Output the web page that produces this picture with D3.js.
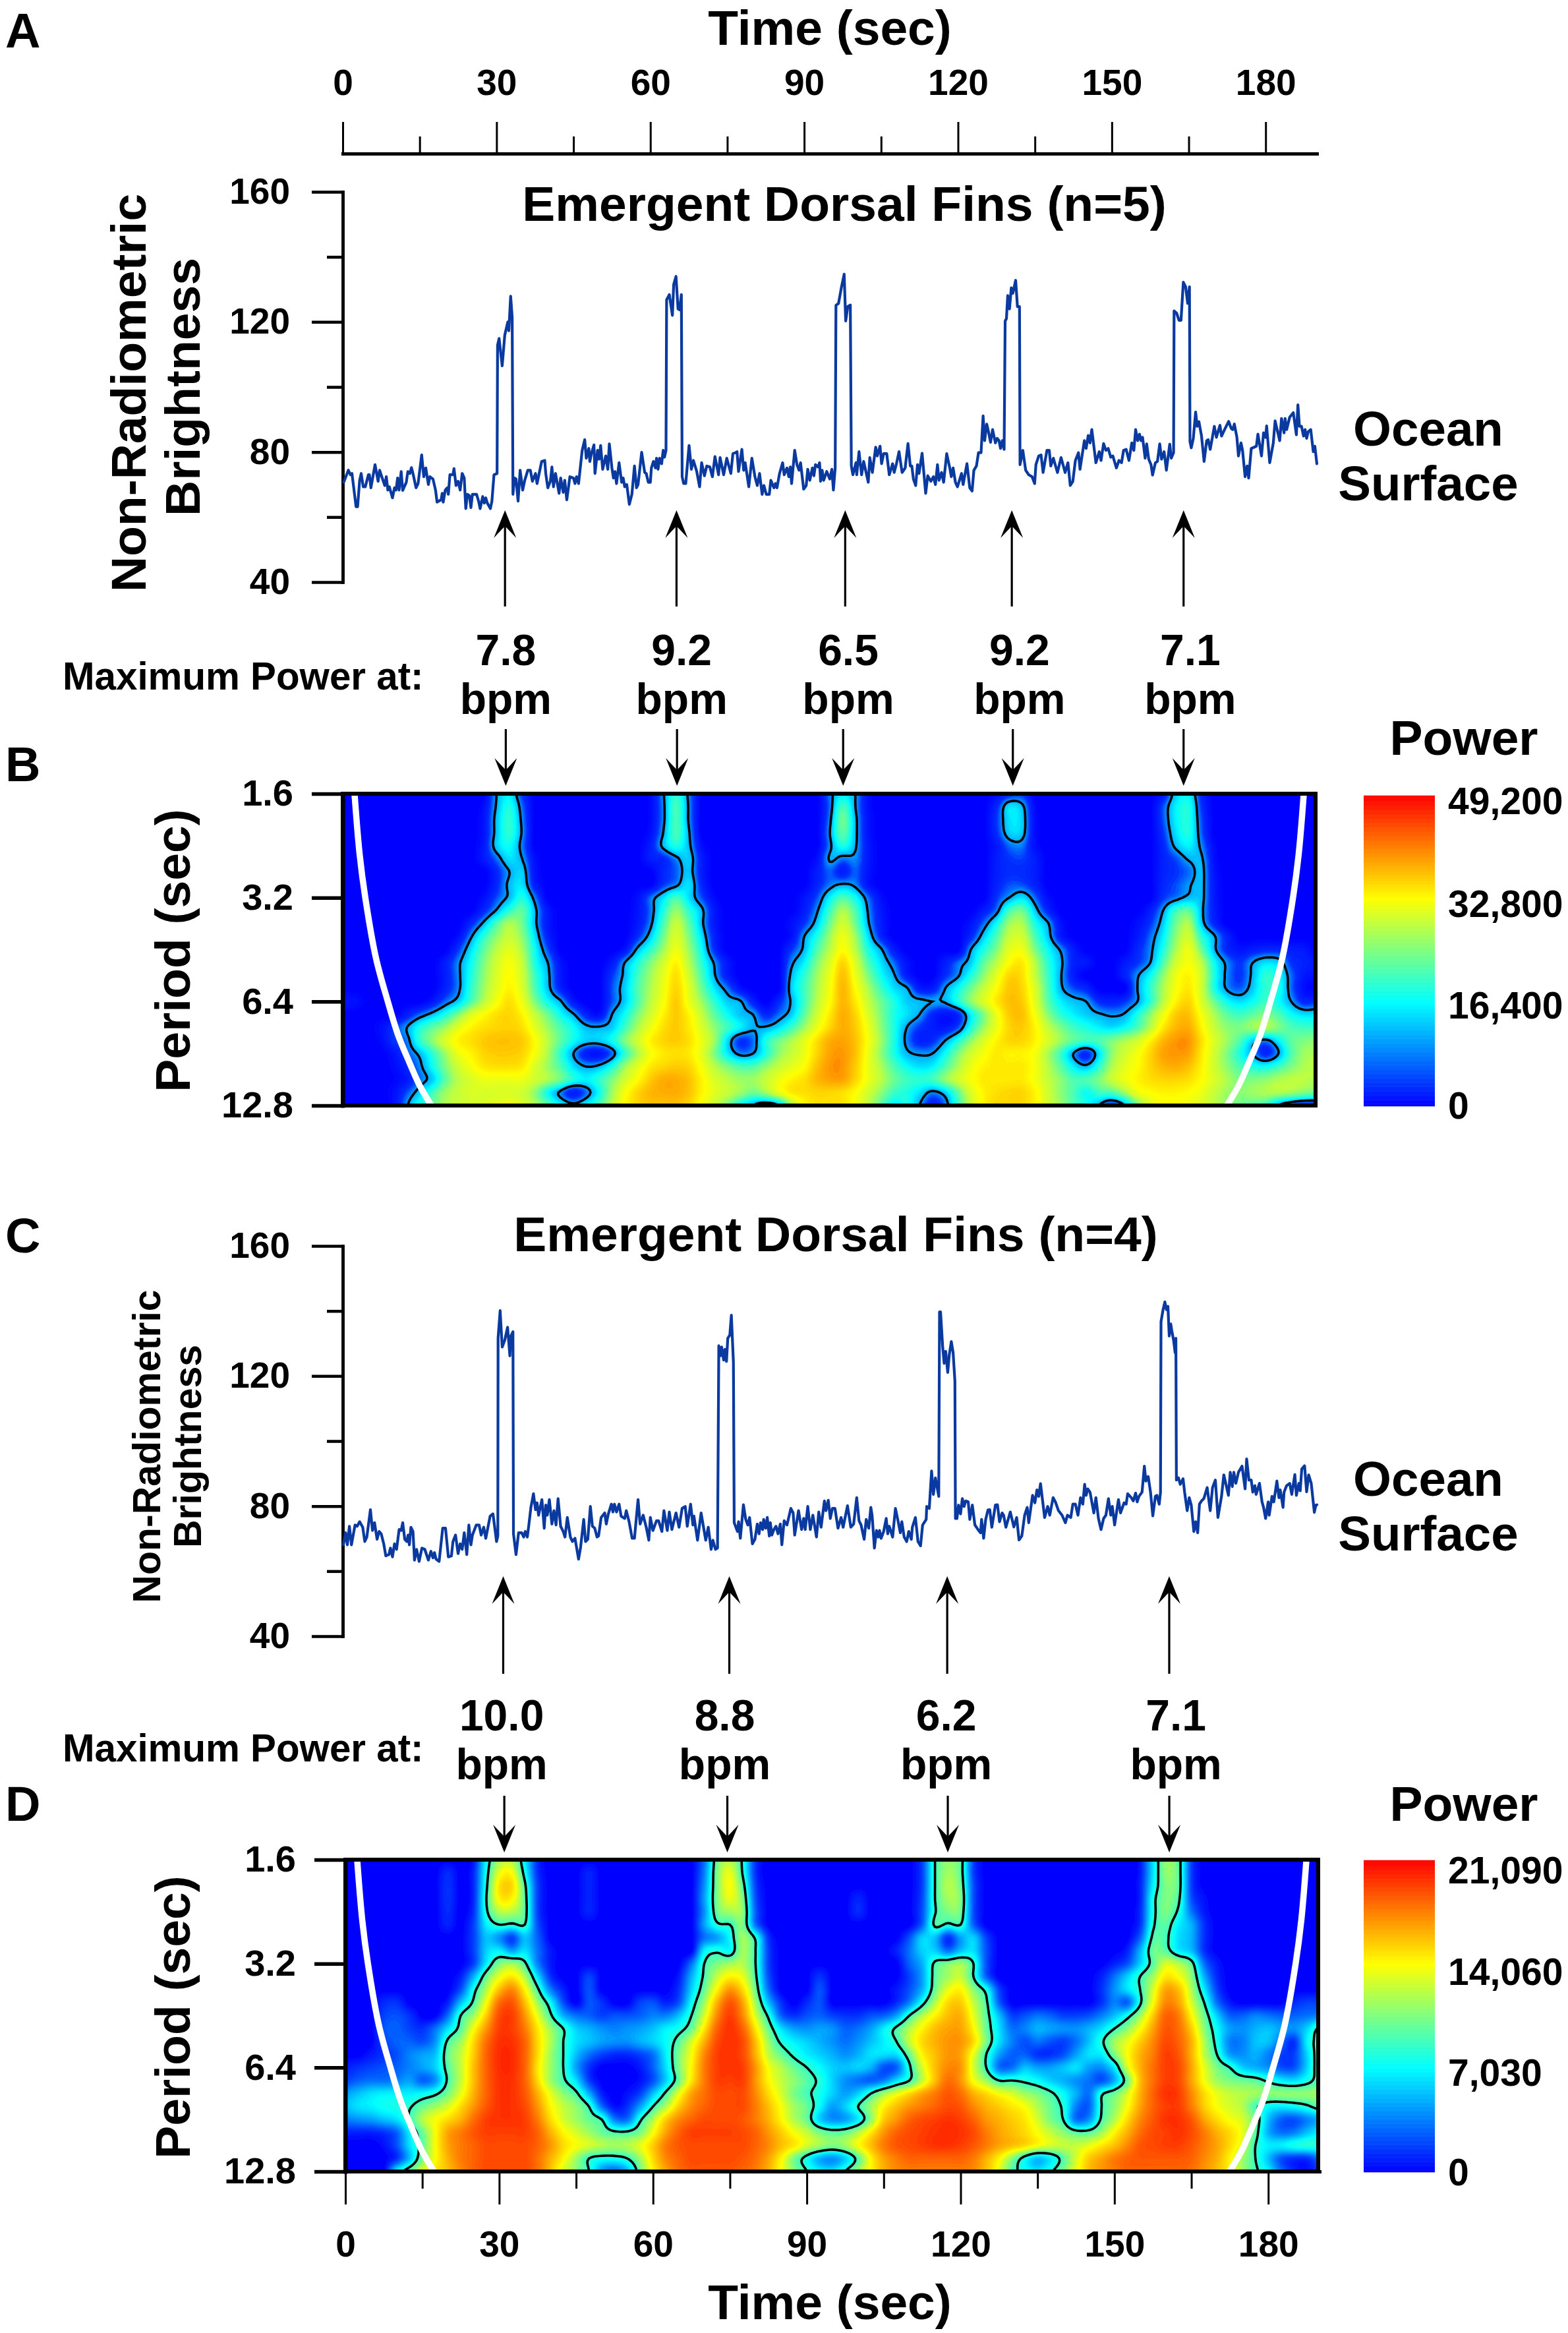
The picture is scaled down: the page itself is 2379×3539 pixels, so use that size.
<!DOCTYPE html>
<html><head><meta charset="utf-8">
<script src="https://cdn.jsdelivr.net/npm/d3@7/dist/d3.min.js"></script>
<style>
html,body{margin:0;padding:0;background:#fff}
svg{display:block}
text{font-family:"Liberation Sans",Arial,sans-serif;font-weight:700;fill:#000}
</style></head><body>
<svg id="c" width="2379" height="3539" viewBox="0 0 2379 3539"></svg>
<script>
// ---------- series ----------
const timeA=[0.2,1.1,1.5,1.8,2.6,2.9,3.3,3.6,4.0,4.4,5.0,5.2,5.5,6.3,6.9,7.2,7.7,8.2,8.5,8.8,9.1,9.7,10.1,10.4,10.7,11.0,11.4,11.7,12.4,12.7,13.1,13.4,13.7,14.3,14.7,15.4,15.8,16.2,16.7,17.0,17.6,18.1,18.4,19.2,19.4,19.6,20.0,20.4,20.6,20.9,21.5,21.7,22.1,22.5,22.9,23.3,23.7,24.0,24.3,24.7,25.0,25.3,26.1,26.5,26.8,27.3,27.6,27.9,28.2,28.8,29.1,29.5,30.1,30.2,30.5,31.1,31.6,32.2,32.4,32.75,33.05,33.2,33.5,33.8,34.2,34.6,35.1,35.5,36.1,36.6,37.0,37.6,37.9,38.8,39.4,39.6,40.0,40.5,40.8,41.1,41.5,42.2,42.5,43.0,43.3,43.7,44.3,45.0,45.3,45.6,46.0,46.7,47.2,47.5,48.0,48.2,48.5,49.0,49.2,49.7,50.0,50.3,50.7,51.3,51.7,52.0,52.5,52.8,53.1,53.4,53.9,54.4,54.7,55.0,55.4,55.9,56.4,56.9,57.3,57.6,58.3,58.9,59.2,59.6,60.0,60.2,60.6,61.0,61.2,61.5,61.8,62.2,62.5,62.75,63.05,63.17,63.7,64.3,64.55,65.0,65.4,65.7,66.05,66.2,66.5,66.9,67.55,68.0,68.4,69.05,69.6,70.0,70.55,71.0,71.6,72.1,72.6,73.3,73.6,74.3,74.9,75.7,76.1,76.6,76.9,77.2,77.85,78.2,78.5,79.2,79.8,80.4,80.85,81.3,81.8,82.15,82.6,83.2,83.5,84.1,84.4,84.7,85.2,85.8,86.1,86.65,87.0,87.3,87.55,88.15,88.6,89.0,89.3,89.9,90.4,90.7,91.1,91.6,91.9,92.2,92.7,93.0,93.2,93.5,93.8,94.4,95.0,95.4,95.7,96.05,96.2,96.7,97.25,97.8,98.1,98.5,99.0,99.2,99.5,100.1,100.25,100.7,101.2,101.6,102.5,102.8,103.3,103.95,104.25,104.8,105.1,105.5,106.1,106.6,107.25,107.55,108.0,108.5,109.1,109.7,110.25,110.7,111.0,111.3,111.75,112.1,112.4,113.0,113.7,114.1,114.7,115.2,115.6,116.0,116.3,116.8,117.2,117.8,118.4,118.7,119.05,119.5,119.9,120.7,121.0,121.75,122.3,122.75,123.1,123.6,124.0,124.5,124.9,125.2,125.6,125.9,126.35,126.75,127.3,127.65,128.0,128.3,128.65,129.0,129.2,129.45,129.7,130.05,130.4,130.7,131.25,131.6,132.0,132.1,132.65,133.2,133.8,134.45,134.95,135.2,135.75,136.2,136.6,137.35,137.8,138.1,138.6,139.4,140.1,140.9,141.45,141.9,142.4,142.9,143.5,143.8,144.65,145.0,145.4,145.75,146.1,146.9,147.55,147.9,148.4,148.85,149.3,149.8,150.2,150.9,151.4,151.9,152.3,152.8,153.35,153.9,154.3,154.65,155.05,155.4,155.7,156.0,156.5,156.8,157.2,157.65,157.95,158.5,158.9,159.35,159.7,160.2,160.65,161.3,161.6,162.05,162.15,162.65,163.1,163.5,163.95,164.4,164.8,165.15,165.25,165.5,165.9,166.35,166.65,167.0,167.5,168.0,168.5,168.8,169.2,170.0,170.4,171.1,171.4,172.0,172.8,173.3,173.6,173.9,174.4,174.7,175.2,175.5,176.0,176.4,176.7,177.2,177.8,178.2,178.5,179.2,179.6,180.0,180.2,180.8,181.5,181.85,182.75,183.1,183.6,183.8,184.1,184.7,185.4,186.0,186.3,186.6,187.0,187.4,187.7,188.0,188.3,188.8,189.3,189.6,190.0];
const brightnessA=[70.7,74.4,73,73.4,63.2,63.2,71.3,73.4,69.3,69.3,73,73,69,76.1,71,74.4,72,69.7,72.4,68.3,69.3,65.9,69,68.3,72,68.3,74,68.2,70.7,74,73.4,75.2,73.4,69,70.3,79.1,72.4,75.1,70,72.4,71.7,68.3,64.6,65.3,67.3,64.6,68.3,69,67,73,73,74.9,69.7,71,68.3,73.4,72,62.6,67,66.6,62.9,67,67,64.9,62.6,66.3,64.3,65.9,64.3,62.6,64.9,73,73.4,112.9,114.9,106.5,115.9,120,117.3,127.9,121.4,67,72,71.7,64.9,74.4,68.3,71.3,74.4,74.4,71,73.4,70.3,77.1,77.4,73.4,69,71,75.4,69.3,73.4,67.3,72,67.6,71.3,65.3,72.4,72,70.3,72.4,70.3,80.5,83.8,78.1,81.1,77.1,79.5,82.2,73.4,80.5,77.8,82,74.7,78.8,74.7,82.5,75.1,72,74,70.3,76.7,70.7,72,69.3,70,63.9,67,75.7,69,70,79.9,73.7,73.4,70.7,70.7,75.1,77.1,75.1,78.1,74.7,78.1,76.4,80.5,78.4,80.5,126.8,128.4,122,131.5,134,124,123.7,128.4,72.4,70.3,70.3,82,74.7,77.4,74,69.3,76.7,72.7,75.7,75.4,72.4,78.6,73,78.3,73,78.1,73.4,79.5,79.8,80.1,74,80.8,74.4,76.7,69.3,78.1,72.4,69.7,73.4,67,69.7,67,67,71.3,69,70.3,69,73.4,76.7,73,75.1,72.4,75.4,70.3,80.5,76.1,74.4,76.7,68.6,69.7,74.7,71.3,75.1,72.7,76.1,75.4,76.7,71,74.4,71.3,74,71.7,74.7,68.3,75.1,125.1,125.7,130.5,134.7,120.3,124.7,125.2,75.7,73,76.7,73,80.1,73,77.1,70.7,78.3,73.7,81.5,78.8,81.8,76.4,79.5,79.5,73,76.4,73.7,76.4,80.1,73.7,75.1,82.6,75.7,75.7,71.7,69.7,76.1,73.4,79.6,67.3,72.7,71,72.4,70,76.1,71.3,73.7,70.7,79.5,75.1,72.4,75.1,70.7,69.3,73.4,70,76.4,69,68,74.4,75.7,79.8,79.8,91.1,83.5,88.6,86.6,83,86.9,82.8,84.2,83.5,81.1,83.5,80.8,120.3,121,128.1,124,130.5,128.8,132.8,124.7,124.7,76.1,80.5,74.4,73,72.4,70.3,76.1,78.8,79.1,73.7,80.5,80.5,75.7,78.1,73.7,78.3,73.7,76.7,69.7,71,77.4,79.8,74.7,83.5,81.1,85.1,82.8,86.9,76.7,80.1,77.4,82.6,80.5,81.1,78.4,78.8,75.1,77.4,76.7,80.5,80.8,77.4,82.8,80.5,86.9,83.5,85.5,83.5,84.5,78.1,82.5,77.8,76.1,72.9,76.7,77.1,82.5,77.8,80.1,74.4,82.4,78.1,79.8,123.4,122.7,120.5,120.5,132.2,130.8,125.7,130.8,83.2,81.3,84.2,92.3,87.9,89.3,84.9,77.1,83.5,83.8,80.8,87.9,84.5,88.2,84.9,86.9,89.4,87.2,86.9,88.6,84.5,78.8,82.8,80.5,72.4,75.7,72,81.1,81.5,81.8,85.5,78.8,85.9,84.5,88,76.7,82.8,89.6,83.5,90.3,85.9,90.3,86.9,90.7,92.1,85.3,94.5,87.9,87.9,84.9,86.9,84.2,86.2,86.9,80.1,81.8,76.4];
const timeC=[0.13,0.56,0.9,1.3,1.7,2.4,2.8,3.3,3.9,4.3,4.7,5.4,5.8,6.2,6.7,7.1,7.5,8.0,8.4,9.0,9.3,9.7,10.1,10.5,11.0,11.4,11.7,12.1,12.5,12.75,13.0,13.3,13.7,14.0,14.4,14.9,15.45,16.0,16.7,17.2,17.6,17.9,18.2,18.8,19.5,20.05,20.6,21.2,21.5,22.0,22.5,22.9,23.3,23.7,24.2,24.6,25.0,25.3,26.05,26.6,27.0,27.5,27.9,28.75,29.3,29.75,30.0,30.25,30.3,30.7,31.1,31.6,32.15,32.6,32.8,33.2,33.3,33.8,34.3,34.9,35.3,35.6,36.0,36.3,36.7,37.2,37.6,37.9,38.2,38.85,39.3,39.6,39.9,40.3,40.8,41.2,41.6,42.0,42.5,43.0,43.35,43.8,44.4,44.8,45.3,46.0,46.4,47.0,47.35,47.8,48.3,48.7,49.15,49.6,49.9,50.4,51.1,51.4,51.8,52.4,52.7,53.0,53.4,53.9,54.3,55.0,55.3,55.85,56.45,56.9,57.6,58.0,58.6,59.2,59.7,60.0,60.5,61.2,61.6,62.25,62.65,63.3,63.7,64.2,65.0,65.6,66.2,66.8,67.2,67.85,68.3,68.5,69.2,69.9,70.8,71.3,71.85,72.2,72.7,73.1,73.35,73.65,73.9,74.3,74.55,74.85,75.1,75.5,75.8,76.2,76.35,77.0,77.2,77.55,78.15,78.6,79.0,79.35,79.9,80.4,80.85,81.2,81.5,81.9,82.1,82.5,82.8,83.2,83.4,83.7,84.1,84.5,84.9,85.35,85.65,86.1,86.65,87.4,87.85,88.15,88.9,89.5,89.9,90.2,90.7,91.2,91.7,92.4,92.85,93.3,93.95,94.25,94.7,95.1,95.5,96.0,96.6,97.2,97.6,98.45,99.1,99.65,100.25,100.7,101.1,101.7,102.1,102.6,103.0,103.25,103.7,104.1,104.45,104.7,105.0,105.5,106.0,106.3,106.6,107.25,107.8,108.3,108.75,109.05,109.5,110.0,110.4,110.9,111.1,111.7,112.2,112.7,113.1,113.8,113.9,114.4,114.85,115.2,115.6,116.25,116.4,116.6,117.0,117.3,117.6,118.0,118.3,118.7,119.05,119.4,119.5,119.8,120.1,120.5,120.85,121.2,121.5,122.0,122.3,122.8,123.3,123.9,124.4,124.6,125.0,125.4,125.85,126.2,126.6,127.3,127.7,128.1,128.6,128.9,129.35,130.2,130.9,131.45,131.9,132.45,133.0,133.5,133.8,134.55,135.0,135.4,135.75,136.1,136.9,137.5,137.9,138.55,139.0,139.6,140.3,140.95,141.35,142.0,142.4,142.9,143.4,143.9,144.35,144.7,145.0,145.3,145.75,146.5,146.9,147.4,147.9,148.4,148.85,149.35,149.8,150.1,150.55,151.3,151.7,152.4,152.8,153.1,153.8,154.2,154.65,154.95,155.3,155.9,156.35,156.65,157.1,157.55,158.0,158.5,158.8,159.25,159.5,159.6,160.0,160.35,160.65,160.95,161.2,161.5,161.7,162.05,162.35,162.5,162.6,163.0,163.35,163.9,164.2,164.7,165.1,165.5,166.0,166.35,166.75,167.1,167.5,167.95,168.6,169.2,169.65,170.2,170.7,171.4,171.85,172.75,173.1,173.5,173.8,174.2,174.7,175.4,176.0,176.3,176.75,177.2,177.5,177.9,178.15,178.8,179.3,179.6,180.0,180.5,180.7,181.25,181.6,182.2,182.6,182.85,183.4,183.6,184.1,184.7,185.1,185.7,186.0,186.5,186.75,187.05,187.6,188.0,188.4,188.9,189.5,189.8,190.0];
const brightnessC=[68.1,71.8,68.1,73.8,68.1,74.2,73.8,75.2,73.5,69.1,70.5,78.9,72.5,74.9,69.8,72.2,71.5,68.4,64.7,65.1,67.1,64.4,68.4,66.7,72.8,72.5,74.9,69.8,69.1,71.1,68.1,73.5,72.2,63.4,66.7,63,67.1,66.7,63.4,66.1,64.1,65.7,63.7,63,73.2,73.2,64.4,64.7,69.1,71.1,65.4,68.4,66.7,71.8,65.1,74.2,68.1,71.1,74.2,74.2,71.1,73.5,70.1,76.9,77.6,72.2,69.1,70.8,131.6,140.1,128.9,131,135,126.2,132.3,133.6,71.5,65.1,71.8,71.8,70.5,72.2,70.5,74.2,79.6,83.8,78.9,81,77.2,82,73.2,80.3,77.2,82,74.5,78.6,74.2,82.3,73.8,72.2,70.5,76.5,70.5,69.1,70.1,63.7,67.4,75.9,69.1,69.8,79.9,73.8,73.2,70.5,70.8,76.5,77.9,74.5,77.6,80.6,78.2,80.6,78.2,80.6,76.9,76.2,78.6,75.2,70.1,70.1,82,74.5,77.2,73.5,69.5,76.5,72.5,75.5,75.5,72.2,78.6,72.5,78.2,72.8,77.9,73.5,79.3,79.9,73.8,80.6,74.2,76.9,69.5,77.9,69.5,73.5,66.7,69.5,66.7,67.1,129.3,126.2,128.9,124.9,128.2,124.5,131.6,132.6,138.7,124.2,74.9,72.2,75.2,70.1,80.4,75.9,74.2,76.5,68.4,69.8,74.5,71.5,74.9,72.8,75.9,73.2,76.5,70.8,74.9,71.1,72.8,73.8,71.5,74.5,68.1,75.5,74.2,79.3,77.9,71.1,78.6,72.8,76.2,72.8,79.9,72.8,77.2,70.5,78.2,73.5,81.6,78.6,81.8,76.2,79.3,79.3,73.2,76.5,73.5,80.1,73.5,74.5,82.6,75.5,74.2,69.8,75.9,73.2,79.6,77.2,67.1,72.5,70.5,72.5,70.1,72.2,76.2,71.5,73.8,70.5,79.3,75.5,71.8,75.2,70.5,69.1,72.2,69.8,73.5,76.5,69.1,67.8,74.2,75.9,79.9,79.3,90.8,83.6,88.7,83,139.7,139.7,129.3,123.9,127.6,121.1,126.5,130.6,127.2,118.4,76.2,76.2,80.3,77.6,82.3,79.9,81.6,81.3,75.9,80.3,74.2,72.8,71.8,75.9,70.1,75.9,78.8,78.9,73.5,80.3,80.4,75.2,77.9,77.2,73.5,78.2,73.6,76.5,69.6,70.8,77.2,79.6,74.9,83.3,81,85,83,86.9,76.5,79.9,77.2,82.6,81.3,78.6,77.2,74.9,77.2,76.5,80.6,80.6,77.2,82.6,80.6,86.7,83.3,85.3,84.3,77.9,82.6,76.2,72.8,76.2,77.2,82.3,77.2,79.9,74.2,82,77.9,81,80.6,83.8,82.6,81.6,84,81.3,83,84.3,92.3,87.7,89.1,84.3,77,83,83.3,80.6,84.3,136.7,140.4,142.8,140.4,141.4,132.3,136,134,131,127.2,131.6,88,88.7,86.7,88.4,84.3,78.6,82.6,80.3,72.2,75.2,71.8,80.6,81.6,82.3,85.7,78.6,85.7,88,76.5,83,89.6,83.3,90.4,86,90.4,87,90.4,92.3,85.3,94.5,88,88,84.3,86.3,83.6,87,81.3,79.6,76.2,81.3,77.2,83,81.3,87.7,82.6,85,79.6,84.3,86.3,87,83.6,89.7,83.3,87,84.7,91.4,92.4,84.4,89.6,87,78.1,80.3,80.4];
const timeTicksMajor=[0,30,60,90,120,150,180];
const timeTicksMinor=[15,45,75,105,135,165];
const brightTicksMajor=[40,80,120,160];
const brightTicksMinor=[60,100,140];
const periodTicks=[1.6,3.2,6.4,12.8];
const coiPeriods=[1.6,2.4,3.2,4.8,6.4,8,9.6,11.2,12.8];
const coiTimes=[2.3,3.3,4.4,6.5,8.8,10.8,13,15,17.3];
const powerTicksB=[0,16400,32800,49200];
const powerTicksD=[0,7030,14060,21090];
const peaksAup=[31.65,65.1,98,130.5,164], peaksBdown=[31.8,65.2,97.6,130.7,164];
const bpmA=["7.8","9.2","6.5","9.2","7.1"], bpmAat=[31.8,66.1,98.6,132,165.3];
const peaksCup=[31.3,75.4,117.9,161.2], peaksDdown=[31,74.5,117.5,160.7];
const bpmC=["10.0","8.8","6.2","7.1"], bpmCat=[31,74.5,117.7,162.5];
// Wavelet power, % of colour-bar top. Rows: period 1.6 -> 12.8 in 1/8 octave steps. Columns: time 0 -> 190 s in 2.5 s steps.
const powerB=[
[0,0,0,0,0,0,0,0,0,0, 0,0,18,25,10,0,0,0,0,0, 0,0,0,0,2,17,32,16,0,0, 0,0,0,0,0,0,0,0,15,25, 18,3,0,0,0,0,0,0,0,0, 0,2,8,10,0,0,0,0,0,0, 0,0,0,0,5,22,26,8,0,0, 0,0,0,0,0,0,0],
[0,0,0,0,0,0,0,0,0,0, 0,3,19,30,14,0,0,0,0,0, 0,0,0,0,2,16,35,17,0,0, 0,0,0,0,0,0,0,0,14,35, 18,3,0,0,0,0,0,0,0,0, 0,8,24,20,2,0,0,0,0,0, 0,0,0,0,12,26,30,10,0,0, 0,0,0,0,0,0,0],
[0,0,0,0,0,0,0,0,0,0, 0,4,21,32,16,0,0,0,0,0, 0,0,0,0,2,16,35,17,0,0, 0,0,0,0,0,0,0,0,16,40, 20,4,0,0,0,0,0,0,0,0, 0,10,24,22,3,0,0,0,0,0, 0,0,0,0,12,26,30,12,0,0, 0,0,0,0,0,0,0],
[0,0,0,0,0,0,0,0,0,0, 0,4,21,32,17,0,0,0,0,0, 0,0,0,0,3,18,35,19,0,0, 0,0,0,0,0,0,0,0,18,38, 20,4,0,0,0,0,0,0,0,0, 0,9,22,21,3,0,0,0,0,0, 0,0,0,0,10,24,30,13,0,0, 0,0,0,0,0,0,0],
[0,0,0,0,0,0,0,0,0,0, 0,5,22,28,15,0,0,0,0,0, 0,0,0,0,6,20,30,20,3,0, 0,0,0,0,0,0,0,0,16,30, 19,5,0,0,0,0,0,0,0,0, 0,5,14,15,3,0,0,0,0,0, 0,0,0,0,8,20,26,16,2,0, 0,0,0,0,0,0,0],
[0,0,0,0,0,0,0,0,0,0, 0,5,14,24,18,3,0,0,0,0, 0,0,0,0,6,8,16,22,6,0, 0,0,0,0,0,0,0,3,19,15, 16,5,0,0,0,0,0,0,0,0, 0,6,10,11,6,0,0,0,0,0, 0,0,0,0,7,12,19,19,3,0, 0,0,0,0,0,0,0],
[0,0,0,0,0,0,0,0,0,0, 0,0,8,18,22,4,0,0,0,0, 0,0,0,0,0,8,13,21,6,0, 0,0,0,0,0,0,0,6,13,6, 13,4,0,0,0,0,0,0,0,0, 0,6,9,9,6,0,0,0,0,0, 0,0,0,0,7,10,14,20,4,0, 0,0,0,0,0,0,0],
[0,0,0,0,0,0,0,0,0,0, 0,0,8,20,24,6,0,0,0,0, 0,0,0,0,0,10,16,24,8,0, 0,0,0,0,0,0,0,7,15,19, 16,4,0,0,0,0,0,0,0,0, 0,7,12,12,7,0,0,0,0,0, 0,0,0,0,8,12,17,20,5,0, 0,0,0,0,0,0,0],
[0,0,0,0,0,0,0,0,0,0, 0,3,12,20,30,15,0,0,0,0, 0,0,0,3,14,24,35,24,12,2, 0,0,0,0,0,0,4,12,26,36, 28,14,3,0,0,0,0,0,0,0, 0,10,18,24,14,3,0,0,0,0, 0,0,0,0,10,15,20,20,5,0, 0,0,0,0,0,0,0],
[0,0,0,0,0,0,0,0,0,0, 0,8,19,32,38,20,5,0,0,0, 0,0,0,4,14,30,45,32,20,5, 0,0,0,0,0,0,6,17,34,48, 36,17,5,0,0,0,0,0,0,0, 6,15,35,40,22,8,0,0,0,0, 0,0,0,6,18,34,38,20,6,0, 0,0,0,0,0,0,0],
[0,0,0,0,0,0,0,0,0,0, 8,20,36,48,40,20,5,0,0,0, 0,0,0,5,16,35,52,38,20,5, 0,0,0,0,0,3,10,22,40,54, 40,19,6,0,0,0,0,0,0,4, 14,28,46,48,30,19,4,0,0,0, 0,0,3,10,22,40,48,22,8,0, 0,0,0,0,0,0,0],
[0,0,0,0,0,0,0,0,0,3, 17,32,44,52,44,24,7,0,0,0, 0,0,0,9,22,40,56,42,24,7, 0,0,0,0,0,3,18,30,46,60, 46,24,8,0,0,0,0,0,0,8, 22,36,52,54,36,22,6,0,0,0, 0,0,5,14,26,44,54,32,19,7, 0,0,0,0,0,0,0],
[0,0,0,0,0,0,0,0,0,10, 24,38,50,58,48,28,12,0,0,0, 0,0,4,20,32,46,60,46,28,9, 0,0,0,0,0,10,20,36,50,64, 50,30,19,6,0,0,0,0,0,18, 30,42,58,60,42,28,17,6,0,0, 0,0,8,16,30,48,60,40,20,8, 4,6,8,8,6,5,0],
[0,0,0,0,0,0,0,0,6,16, 28,42,54,62,52,30,18,4,0,0, 0,5,18,30,42,54,66,50,32,17, 5,0,0,0,0,16,26,42,56,72, 56,36,24,14,4,0,0,6,14,22, 38,50,64,68,50,32,20,7,5,0, 0,5,10,18,36,54,62,50,28,16, 10,18,24,22,10,7,5],
[0,0,0,0,0,0,0,0,6,16, 30,44,56,64,54,34,20,5,0,0, 0,10,20,34,46,58,70,54,36,19, 6,0,0,0,0,20,32,46,60,76, 60,42,28,19,6,0,0,9,17,30, 44,58,72,70,52,34,19,6,0,0, 0,7,17,28,44,60,66,54,30,16, 10,20,32,28,14,5,3],
[0,0,0,0,0,0,0,0,7,16, 32,46,58,66,56,36,21,7,0,0, 0,12,22,36,48,60,72,58,40,25, 15,4,0,0,0,22,34,48,62,78, 64,48,34,24,19,6,6,18,28,40, 52,64,75,72,56,36,20,12,8,0, 0,0,18,32,48,62,68,54,30,17, 13,22,32,30,14,3,0],
[4,3,0,0,0,0,0,5,14,22, 36,50,62,70,60,42,28,19,5,0, 0,12,22,36,50,62,74,60,46,32, 22,19,7,0,8,19,34,50,64,78, 68,52,40,30,22,20,18,19,30,44, 56,68,76,74,58,38,26,21,18,9, 7,10,18,32,50,66,72,56,40,28, 24,28,34,28,18,8,10],
[0,0,0,0,0,6,14,21,30,42, 56,64,70,72,66,52,40,28,19,7, 3,18,28,42,54,66,74,66,52,38, 28,21,18,8,14,22,38,54,68,80, 72,56,42,30,24,18,8,4,8,26, 42,60,74,76,62,44,32,26,22,19, 17,19,30,44,60,74,76,62,48,38, 34,38,42,36,28,24,24],
[0,0,0,3,10,18,30,38,46,58, 66,70,72,73,70,58,46,36,28,20, 19,22,34,48,60,70,74,68,56,44, 34,26,19,19,24,34,46,60,72,80, 74,60,44,30,18,10,6,5,12,30, 46,60,72,74,66,52,42,34,30,26, 24,28,36,50,68,78,80,66,52,44, 42,46,48,42,36,34,34],
[0,0,0,2,10,15,32,44,56,66, 70,74,76,76,74,64,50,38,28,22, 22,28,42,54,66,72,74,70,60,46, 24,10,14,30,40,48,58,70,80,82, 76,62,46,30,16,7,9,18,30,44, 56,66,72,72,66,56,46,38,34,36, 42,48,54,66,78,84,84,70,56,46, 36,22,16,26,38,42,44],
[0,0,0,0,4,12,20,32,46,60, 66,72,74,74,72,62,48,32,18,6, 4,14,32,48,62,68,70,68,58,42, 26,16,18,30,44,52,60,72,82,84, 76,60,44,30,20,17,18,28,42,54, 62,68,66,66,62,48,34,18,8,24, 44,54,62,72,82,84,82,68,54,42, 30,18,8,18,36,46,48],
[0,0,0,0,2,8,16,28,42,54, 62,68,70,70,68,56,46,36,24,18, 20,30,46,58,68,72,74,72,62,50, 42,36,36,44,52,58,64,76,84,84, 74,60,48,36,28,24,26,36,48,60, 66,68,68,68,62,50,38,26,20,32, 48,58,64,72,78,80,76,66,54,44, 36,30,28,34,42,48,50],
[0,0,0,0,1,5,14,22,38,50, 56,60,60,60,60,54,48,40,30,26, 32,42,54,64,74,80,80,76,66,56, 50,46,46,52,60,66,70,78,82,82, 72,60,50,40,34,32,34,44,54,62, 68,68,68,68,62,52,44,36,36,42, 52,60,66,70,72,72,70,64,56,48, 42,42,44,48,50,50,48],
[0,0,0,0,3,12,22,34,46,52, 56,56,56,56,54,44,28,16,6,14, 28,46,62,72,78,80,80,76,66,58, 52,46,40,46,58,68,70,72,72,70, 64,54,44,34,30,24,16,22,38,56, 66,70,72,72,66,54,44,36,28,34, 36,46,60,64,66,66,64,60,52,46, 44,46,48,48,46,42,40],
[0,0,0,0,3,17,30,40,48,52, 54,56,58,60,56,48,38,26,20,26, 36,50,64,72,76,76,76,72,62,52, 42,28,18,12,18,46,64,70,70,70, 62,50,38,26,30,18,6,14,34,52, 66,72,72,72,66,54,46,36,30,18, 8,18,40,56,62,62,60,56,50,44, 40,38,34,18,10,6,6]
];
const powerD=[
[0,0,0,0,0,0,0,0,0,0, 3,32,50,52,30,5,0,0,0,0, 0,0,0,0,0,0,0,0,14,44, 52,36,6,0,0,0,0,0,0,0, 0,0,0,0,0,8,38,48,42,8, 0,0,0,0,0,0,0,0,0,0, 0,0,3,28,48,42,8,0,0,0, 0,0,0,0,0,0,0],
[0,0,0,0,0,0,0,0,5,0, 5,34,58,60,34,6,0,0,0,4, 0,0,0,0,0,0,0,0,16,46, 58,37,6,0,0,0,0,0,0,0, 0,0,0,0,0,8,38,50,42,8, 0,0,0,0,0,0,0,0,0,0, 0,0,3,28,48,42,8,0,0,0, 0,0,0,0,0,0,0],
[0,0,0,0,0,0,0,0,6,0, 5,36,64,66,40,8,0,0,0,4, 0,0,0,0,0,0,0,0,18,46, 60,42,8,0,0,0,0,0,0,0, 0,0,0,0,0,8,38,52,44,10, 0,0,0,0,0,0,0,0,0,0, 0,0,4,30,46,42,8,0,0,0, 0,0,0,0,0,0,0],
[0,0,0,0,0,0,0,0,6,0, 5,38,62,62,42,8,0,0,0,4, 0,0,0,0,0,0,0,0,20,46, 58,46,10,0,0,0,0,0,0,0, 4,0,0,0,0,9,38,50,46,10, 0,0,0,0,0,0,0,0,0,0, 0,0,4,34,46,40,10,2,0,0, 0,0,0,0,0,0,0],
[0,0,0,0,0,0,0,0,5,0, 6,36,52,52,42,8,0,0,0,4, 0,0,0,0,0,0,0,0,18,44, 50,48,12,0,0,0,0,0,0,0, 5,0,0,0,0,10,37,46,44,10, 0,0,0,0,0,0,0,0,0,0, 0,0,5,34,46,36,15,3,0,0, 0,0,0,0,0,0,0],
[0,0,0,0,0,0,0,0,4,0, 8,30,38,36,38,10,0,0,0,0, 0,0,0,0,0,0,0,0,20,36, 38,46,14,0,0,0,0,0,0,0, 0,0,0,0,0,12,40,36,38,12, 0,0,0,0,0,0,0,0,0,0, 0,0,6,36,42,30,22,6,0,0, 0,0,0,0,0,0,0],
[0,0,0,0,0,0,0,0,0,0, 8,24,18,8,24,12,0,0,0,0, 0,0,0,0,0,0,0,0,14,20, 32,50,36,6,0,0,0,0,0,0, 0,0,0,0,10,26,24,6,20,26, 8,0,0,0,0,0,0,0,0,0, 0,0,12,40,40,28,22,6,0,0, 0,0,0,0,0,0,0],
[0,0,0,0,0,0,0,0,0,0, 8,26,30,20,28,14,3,0,0,0, 0,0,0,0,0,0,0,0,30,36, 32,50,38,8,0,0,0,0,0,0, 0,0,0,4,14,26,26,14,24,28, 10,0,0,0,0,0,0,0,0,0, 0,4,22,44,42,30,24,6,0,0, 0,0,0,0,0,0,0],
[0,0,0,0,0,0,0,0,0,0, 8,30,46,50,40,16,3,0,0,0, 0,0,0,0,0,0,0,14,38,46, 50,52,38,8,0,0,0,0,0,0, 0,0,0,0,12,22,40,46,50,38, 10,0,0,0,0,0,0,0,0,0, 4,10,26,42,56,52,42,14,3,0, 0,0,0,0,0,0,0],
[0,0,0,0,0,0,0,0,0,4, 22,44,58,64,52,28,6,0,0,8, 0,0,0,0,0,0,3,22,40,54, 62,58,40,10,0,0,0,6,0,0, 0,0,0,0,8,20,42,50,54,38, 12,0,0,0,0,0,0,0,0,4, 14,26,38,50,64,60,48,22,5,0, 0,0,0,0,0,0,0],
[0,0,0,0,0,0,0,0,0,10, 34,52,70,78,62,40,16,4,0,10, 0,0,0,0,0,0,6,26,44,62, 76,66,44,14,0,0,0,10,0,0, 0,0,0,3,10,22,44,58,62,48, 34,8,0,0,0,0,0,0,0,6, 18,28,38,56,74,70,52,30,8,0, 0,0,0,0,0,0,0],
[0,0,0,5,6,0,0,0,4,24, 40,60,82,86,70,50,32,10,0,10, 6,0,0,8,10,4,10,32,50,72, 86,74,50,24,6,0,5,10,0,0, 0,0,0,5,16,34,52,66,68,54, 40,12,0,0,0,0,0,0,0,6, 16,12,36,60,78,74,56,38,14,3, 0,0,0,0,5,8,8],
[0,0,0,8,10,6,0,0,14,38, 50,68,88,90,76,58,40,22,14,12, 8,10,10,12,16,16,24,38,56,78, 90,78,56,36,12,6,10,12,8,6, 6,10,12,20,38,52,62,70,72,58, 42,24,8,10,14,12,8,8,10,16, 24,34,50,68,84,80,62,44,26,12, 12,16,14,12,12,14,16],
[0,0,0,10,12,8,6,14,28,42, 60,76,90,90,80,64,50,38,26,22, 18,16,18,20,24,30,34,44,64,84, 92,84,64,44,28,20,18,20,18,12, 14,20,30,40,52,62,70,74,74,62, 44,28,14,16,22,20,18,18,22,28, 38,48,60,74,86,82,68,48,32,20, 18,22,24,20,18,26,40],
[0,0,0,8,12,12,10,18,40,50, 66,82,92,92,84,66,52,38,28,24, 20,18,18,22,26,32,42,56,72,88, 92,88,70,50,36,30,26,22,18,14, 18,24,30,38,54,66,72,76,76,66, 46,28,16,10,14,10,8,14,24,36, 50,58,68,78,88,84,72,52,34,16, 16,24,24,14,6,30,42],
[0,0,3,6,10,16,20,24,44,54, 68,84,93,93,84,66,50,38,24,14, 8,5,5,8,14,30,46,60,78,90, 92,88,72,54,44,36,30,26,22,18, 22,28,28,28,44,62,70,76,74,58, 38,20,12,12,6,6,10,20,28,30, 46,60,72,80,90,86,72,54,38,20, 18,22,16,8,8,26,44],
[4,6,8,10,12,16,20,26,42,54, 70,84,93,93,84,64,50,38,20,6, 0,0,0,3,12,28,46,62,80,90, 92,90,76,60,52,44,38,32,26,24, 26,22,10,12,36,56,70,78,76,56, 38,14,14,24,20,20,24,28,20,18, 30,56,72,82,90,88,74,58,46,38, 26,22,18,10,10,26,44],
[8,12,14,14,16,20,12,18,40,54, 70,84,92,92,84,66,50,40,28,8, 0,0,0,2,10,26,44,64,80,90, 90,90,76,62,54,48,42,36,26,18, 14,12,16,28,38,54,70,82,76,60, 50,38,38,36,32,26,22,18,14,10, 22,44,70,82,90,88,74,60,50,46, 44,42,36,30,28,34,42],
[20,24,28,30,30,30,32,36,46,58, 72,84,92,92,86,72,58,48,40,22, 4,0,2,8,24,40,58,74,82,88, 88,88,78,66,56,46,40,34,26,20, 26,38,50,58,66,74,80,86,82,72, 66,60,56,50,46,40,32,22,14,36, 44,56,72,84,92,90,78,66,58,54, 52,50,48,48,48,48,50],
[24,28,30,33,34,37,44,50,56,66, 76,86,92,92,88,76,62,54,48,38, 14,2,6,20,38,52,68,78,84,88, 88,88,80,70,60,50,44,32,20,26, 38,50,62,70,76,80,84,88,86,78, 72,68,64,60,52,44,36,16,12,38, 48,60,74,84,90,90,80,68,60,56, 52,40,32,30,32,36,42],
[16,18,20,24,28,38,52,60,66,72, 82,90,92,92,90,80,66,56,50,44, 38,16,14,36,52,68,78,84,88,88, 88,86,80,72,62,52,44,26,18,20, 30,48,68,76,84,88,90,92,90,84, 76,72,68,64,56,46,38,14,18,40, 52,66,78,86,92,92,86,74,66,60, 56,44,24,12,10,16,22],
[4,4,4,6,12,30,44,60,74,80, 86,90,90,90,90,84,72,62,56,50, 44,40,40,46,60,74,84,90,90,90, 90,88,84,76,68,60,54,46,42,44, 52,64,76,84,88,90,92,93,92,88, 80,74,70,66,60,54,48,42,42,50, 62,72,82,88,90,92,88,80,72,66, 58,42,22,14,16,24,30],
[0,0,0,2,10,28,42,60,74,80, 84,88,88,88,88,84,76,66,60,56, 52,50,52,58,68,80,86,88,88,88, 88,88,84,78,70,64,56,50,46,50, 60,70,80,86,88,90,92,92,90,86, 80,74,70,66,60,56,54,54,58,64, 70,78,86,88,90,90,86,80,74,66, 56,38,30,30,34,36,36],
[0,0,0,0,6,24,46,60,72,80, 84,88,88,88,88,82,72,62,50,38, 34,34,38,50,66,78,84,88,88,88, 88,86,82,74,62,46,34,22,18,26, 42,62,74,80,84,84,84,84,84,80, 72,62,48,34,24,30,42,56,68,74, 80,84,86,86,86,86,84,78,72,62, 50,38,24,10,6,6,14],
[0,0,0,0,30,44,56,64,70,78, 84,88,88,88,88,82,70,56,48,38, 18,12,22,44,62,74,82,86,86,86, 86,84,80,72,60,48,38,30,28,38, 50,62,72,78,80,80,80,80,80,78, 70,58,42,34,28,36,46,58,70,76, 80,84,84,84,84,84,82,76,70,62, 50,40,30,14,4,2,6]
];
const sigLevelB=18, sigLevelD=38; // percent of colour-bar top at which the black contour runs
// colour calibration of the hand-read grids against the picture's colours
const shadeB=d3.scaleLinear().domain([0,10,18,30,50,66,84,100]).range([0,6,22,37,58,68,80,100]);
const shadeD=d3.scaleLinear().domain([0,38,60,80,100]).range([0,40,66,84,100]);

// ---------- helpers ----------
const svg=d3.select("#c");
const BLUE="#0a3a9f";
const colour=d3.scaleLinear().domain([0,100/3,200/3,100]).range(["#0000ff","#00ffff","#ffff00","#ff0000"]).clamp(true);
const txt=(x,y,s,size,anchor="middle",g=svg)=>g.append("text").attr("x",x).attr("y",y).attr("font-size",size).attr("text-anchor",anchor).text(s);
const vtxt=(x,y,s,size)=>svg.append("text").attr("transform",`translate(${x},${y}) rotate(-90)`).attr("font-size",size).attr("text-anchor","middle").text(s);
const styleAxis=(g,w,tw)=>{g.selectAll(".domain").attr("stroke","#000").attr("stroke-width",w).attr("stroke-linecap","square");g.selectAll(".tick line").attr("stroke","#000").attr("stroke-width",tw);g.selectAll("text").attr("font-size",55).attr("font-family",'"Liberation Sans",Arial,sans-serif').attr("font-weight",700).attr("fill","#000");};

function arrow(x,y0,y1){ // shaft from y0 to tip y1
  const d=Math.sign(y1-y0), L=36, W=17, N=24;
  svg.append("line").attr("x1",x).attr("x2",x).attr("y1",y0).attr("y2",y1-d*10).attr("stroke","#000").attr("stroke-width",3.2);
  svg.append("path").attr("d",d3.line()([[x,y1],[x-W,y1-d*L-d*6],[x,y1-d*N],[x+W,y1-d*L-d*6]])+"Z").attr("fill","#000");
}

function seriesPanel(cfg){
  const x=d3.scaleLinear().domain([0,190]).range([520,1998]);
  const y=d3.scaleLinear().domain([40,160]).range([cfg.y40,cfg.y160]);
  const gM=svg.append("g").attr("transform","translate(520,0)").call(d3.axisLeft(y).tickValues(brightTicksMajor).tickSize(47).tickSizeOuter(0).tickPadding(cfg.pad||33));
  const gN=svg.append("g").attr("transform","translate(520,0)").call(d3.axisLeft(y).tickValues(brightTicksMinor).tickSize(24).tickSizeOuter(0).tickFormat(""));
  styleAxis(gM,4.5,4.5);styleAxis(gN,4.5,4.5);
  svg.append("path").attr("d",d3.line().x(d=>x(d[0])).y(d=>y(d[1]))(d3.zip(cfg.t,cfg.v))).attr("fill","none").attr("stroke",BLUE).attr("stroke-width",4.2).attr("stroke-linejoin","round").attr("stroke-linecap","round");
  return x;
}

function heat(cfg){
  const {grid,L,R,T,B,level,shade}=cfg;
  const x=d3.scaleLinear().domain([0,190]).range([L,R]);
  const y=d3.scaleLog().base(2).domain([1.6,12.8]).range([T,B]);
  const rows=grid.length, cols=grid[0].length;
  const k=6, nx=(cols-1)*k+1, ny=(rows-1)*k+1;
  const val=new Float64Array(nx*ny);
  const get=(r,c)=>grid[Math.max(0,Math.min(rows-1,r))][Math.max(0,Math.min(cols-1,c))]||0;
  const cr=(p0,p1,p2,p3,u)=>p1+0.5*u*(p2-p0+u*(2*p0-5*p1+4*p2-p3+u*(3*(p1-p2)+p3-p0)));
  for(let j=0;j<ny;j++){const rr=j/k,r0=Math.floor(rr),v=rr-r0;
    for(let i=0;i<nx;i++){const cc=i/k,c0=Math.floor(cc),u=cc-c0;
      const q=[-1,0,1,2].map(d=>cr(get(r0+d,c0-1),get(r0+d,c0),get(r0+d,c0+1),get(r0+d,c0+2),u));
      val[j*nx+i]=Math.max(0,Math.min(100,cr(q[0],q[1],q[2],q[3],v)));
    }}
  const project=d3.geoPath(d3.geoTransform({point(px,py){
    const t=(px-0.5)/k*2.5, oct=(py-0.5)/k/8;
    this.stream.point(x(t), y(1.6*Math.pow(2,oct)));
  }}));
  const id="clip"+cfg.id;
  svg.append("clipPath").attr("id",id).append("rect").attr("x",L).attr("y",T).attr("width",cfg.Rf-L).attr("height",B-T);
  const g=svg.append("g").attr("clip-path",`url(#${id})`);
  g.append("rect").attr("x",L).attr("y",T).attr("width",cfg.Rf-L).attr("height",B-T).attr("fill",colour(0));
  const levels=d3.range(1,100,1.25);
  const cs=d3.contours().size([nx,ny]).smooth(true).thresholds(levels)(val);
  g.selectAll("path.band").data(cs).join("path").attr("class","band").attr("d",project).attr("fill",d=>colour(shade(d.value+0.6)));
  const sig=d3.contours().size([nx,ny]).smooth(true).thresholds([level])(val);
  g.selectAll("path.sig").data(sig).join("path").attr("class","sig").attr("d",project).attr("fill","none").attr("stroke","#000").attr("stroke-width",3.6);
  // cone of influence
  const line=d3.line().curve(d3.curveCatmullRom).x(d=>x(d[0])).y(d=>y(d[1]));
  const coiL=d3.zip(coiTimes,coiPeriods), coiR=coiL.map(d=>[x.invert(cfg.Rf)-d[0],d[1]]);
  [coiL,coiR].forEach(c=>g.append("path").attr("d",line(c)).attr("fill","none").attr("stroke","#fff").attr("stroke-width",9.5));
  // frame
  svg.append("rect").attr("x",L).attr("y",T).attr("width",cfg.Rf-L).attr("height",B-T).attr("fill","none").attr("stroke","#000").attr("stroke-width",cfg.fw||6);
  const a=svg.append("g").attr("transform",`translate(${L},0)`).call(d3.axisLeft(y).tickValues(periodTicks).tickFormat(d=>d.toFixed(1)).tickSize(47).tickSizeOuter(0).tickPadding(28));
  styleAxis(a,6,5.5);
  a.selectAll("text").attr("font-size",56);
  return x;
}

function colourBar(x,T,B,ticks,baselines,titleY){
  const v=d3.scaleLinear().domain([0,100]).range([B,T]);
  const w=108;
  svg.selectAll(null).data(d3.range(0,100,0.25)).enter().append("rect").attr("x",x).attr("width",w).attr("y",d=>v(d+0.25)-0.3).attr("height",(v(0)-v(0.25))+0.6).attr("fill",d=>colour(d));
  ticks.forEach((t,i)=>txt(2197,baselines[i],d3.format(",")(t),57,"start"));
  txt(2221,titleY,"Power",75);
}

// ---------- panel A ----------
txt(8,72,"A",74,"start");
{
  const xt=d3.scaleLinear().domain([0,190]).range([520,1998]);
  const gM=svg.append("g").attr("transform","translate(0,233)").call(d3.axisTop(xt).tickValues(timeTicksMajor).tickSize(48).tickSizeOuter(0).tickPadding(41));
  const gN=svg.append("g").attr("transform","translate(0,233)").call(d3.axisTop(xt).tickValues(timeTicksMinor).tickSize(26).tickSizeOuter(0).tickFormat(""));
  styleAxis(gM,5,3);styleAxis(gN,5,3);
}
txt(1259,68,"Time (sec)",75);
const xA=seriesPanel({t:timeA,v:brightnessA,y40:883,y160:291});
txt(1281,335,"Emergent Dorsal Fins (n=5)",75);
vtxt(221,596,"Non-Radiometric",75);
vtxt(303,587,"Brightness",75);
txt(2167,676,"Ocean",74.5);txt(2167,759,"Surface",74.5);
peaksAup.forEach(t=>arrow(xA(t),920,774));
bpmA.forEach((s,i)=>{txt(xA(bpmAat[i]),1009,s,66);txt(xA(bpmAat[i]),1083,"bpm",66);});
txt(95,1046,"Maximum Power at:",58.3,"start");

// ---------- panel B ----------
txt(8,1185,"B",74,"start");
const xB=heat({id:"B",grid:powerB,L:520,R:1998,Rf:1996,T:1204,B:1677,level:sigLevelB,shade:shadeB});
peaksBdown.forEach(t=>arrow(xA(t),1106,1192));
colourBar(2069,1207,1678,powerTicksB,[1697,1545,1391,1235],1145);
vtxt(288,1442,"Period (sec)",75);

// ---------- panel C ----------
txt(8,1900,"C",74,"start");
const xC=seriesPanel({t:timeC,v:brightnessC,y40:2482,y160:1890});
txt(1268,1898,"Emergent Dorsal Fins (n=4)",75);
vtxt(243,2194,"Non-Radiometric",59);
vtxt(305,2194,"Brightness",59);
txt(2167,2269,"Ocean",74.5);txt(2167,2352,"Surface",74.5);
peaksCup.forEach(t=>arrow(xC(t),2539,2391));
bpmC.forEach((s,i)=>{txt(xC(bpmCat[i]),2625,s,66);txt(xC(bpmCat[i]),2699,"bpm",66);});
txt(95,2672,"Maximum Power at:",58.3,"start");

// ---------- panel D ----------
txt(8,2762,"D",74,"start");
const xD=heat({id:"D",grid:powerD,L:524,R:2002,Rf:2000,T:2821,B:3294,level:sigLevelD,shade:shadeD});
peaksDdown.forEach(t=>arrow(xD(t),2724,2810));
colourBar(2069,2822,3295,powerTicksD,[3315,3164,3011,2857],2762);
vtxt(288,3060,"Period (sec)",75);
{
  const gM=svg.append("g").attr("transform","translate(0,3294)").call(d3.axisBottom(xD).tickValues(timeTicksMajor).tickSize(50).tickSizeOuter(0).tickPadding(40));
  const gN=svg.append("g").attr("transform","translate(0,3294)").call(d3.axisBottom(xD).tickValues(timeTicksMinor).tickSize(26).tickSizeOuter(0).tickFormat(""));
  styleAxis(gM,5,3);styleAxis(gN,5,3);
}
txt(1259,3518,"Time (sec)",75);
</script>
</body></html>
